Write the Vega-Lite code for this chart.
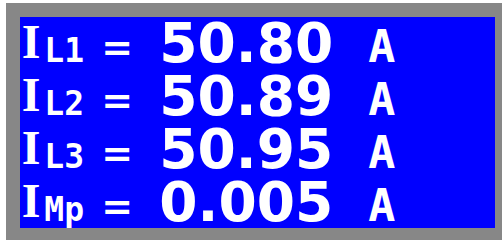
{
  "$schema": "https://vega.github.io/schema/vega-lite/v6.json",
  "width": 489,
  "height": 225,
  "autosize": {"type": "none"},
  "padding": {"left": 13, "top": 10, "right": 0, "bottom": 5},
  "background": "white",
  "config": {
    "view": {"fill": "#0000FF", "stroke": "#878787", "strokeWidth": 14}
  },
  "data": {
    "values": [
      {"line": 1, "sym": "I", "sub": "L1", "eq": "=", "val": "50.80", "unit": "A"},
      {"line": 2, "sym": "I", "sub": "L2", "eq": "=", "val": "50.89", "unit": "A"},
      {"line": 3, "sym": "I", "sub": "L3", "eq": "=", "val": "50.95", "unit": "A"},
      {"line": 4, "sym": "I", "sub": "Mp", "eq": "=", "val": "0.005", "unit": "A"}
    ]
  },
  "encoding": {
    "y": {
      "field": "line", "type": "quantitative", "axis": null,
      "scale": {"domain": [1, 4], "range": [52, 211]}
    }
  },
  "layer": [
    {
      "mark": {"type": "text", "font": "Liberation Serif", "fontWeight": "bold", "fontSize": 48, "align": "left", "baseline": "alphabetic", "color": "white", "dy": -4},
      "encoding": {
        "x": {"datum": 9, "type": "quantitative", "axis": null, "scale": {"domain": [0, 489], "range": [0, 489]}},
        "text": {"field": "sym"}
      }
    },
    {
      "mark": {"type": "text", "font": "DejaVu Sans Mono", "fontWeight": "bold", "fontSize": 33, "align": "left", "baseline": "alphabetic", "color": "white"},
      "encoding": {
        "x": {"datum": 32, "type": "quantitative"},
        "text": {"field": "sub"}
      }
    },
    {
      "mark": {"type": "text", "font": "DejaVu Sans", "fontWeight": "bold", "fontSize": 38, "align": "center", "baseline": "alphabetic", "color": "white", "dy": -2},
      "encoding": {
        "x": {"datum": 106.5, "type": "quantitative"},
        "text": {"field": "eq"}
      }
    },
    {
      "mark": {"type": "text", "font": "DejaVu Sans", "fontWeight": "bold", "fontSize": 55, "align": "center", "baseline": "alphabetic", "color": "white"},
      "encoding": {
        "x": {"datum": 238.5, "type": "quantitative"},
        "text": {"field": "val"}
      }
    },
    {
      "mark": {"type": "text", "font": "DejaVu Sans Mono", "fontWeight": "bold", "fontSize": 45, "align": "center", "baseline": "alphabetic", "color": "white"},
      "encoding": {
        "x": {"datum": 377, "type": "quantitative"},
        "text": {"field": "unit"}
      }
    }
  ]
}
